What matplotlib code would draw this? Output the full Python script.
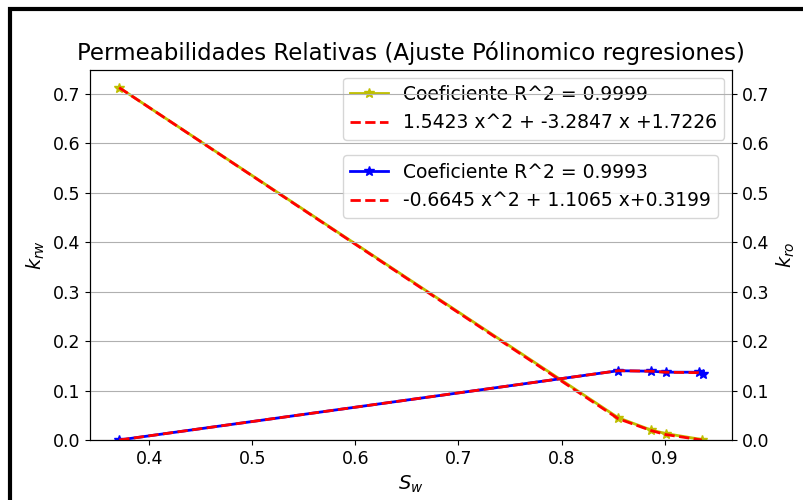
import matplotlib
matplotlib.use("Agg")
import matplotlib.pyplot as plt
from matplotlib.patches import Rectangle

# Data
sw_o = [0.371, 0.855, 0.887, 0.901, 0.936]
kro = [0.712, 0.045, 0.020, 0.013, 0.001]
kro_fit = [0.712, 0.043, 0.019, 0.011, 0.000]

sw_w = [0.371, 0.855, 0.887, 0.901, 0.933, 0.937]
krw = [0.000, 0.140, 0.139, 0.137, 0.137, 0.133]
krw_fit = [0.000, 0.140, 0.139, 0.137, 0.136, 0.134]

title = "Permeabilidades Relativas (Ajuste Pólinomico regresiones)"
lab_o1 = "Coeficiente R^2 = 0.9999"
lab_o2 = "1.5423 x^2 + -3.2847 x +1.7226"
lab_w1 = "Coeficiente R^2 = 0.9993"
lab_w2 = "-0.6645 x^2 + 1.1065 x+0.3199"

plt.rcParams['font.family'] = ['DejaVu Sans']
fig = plt.figure(figsize=(8.04, 5.0), dpi=100)
ax1 = fig.add_axes([90/804, 60/500, 642/804, 370/500])
ax2 = ax1.twinx()

ax1.plot(sw_o, kro, 'y-*', markersize=7.5, linewidth=2, label=lab_o1)
ax1.plot(sw_o, kro_fit, 'r--', linewidth=2, label=lab_o2)
ax2.plot(sw_w, krw, 'b-*', markersize=7.5, linewidth=2, label=lab_w1)
ax2.plot(sw_w, krw_fit, 'r--', linewidth=2, label=lab_w2)

ax1.set_ylim(bottom=0)
ax2.set_ylim(ax1.get_ylim())
ax2.grid(True)

ax1.set_title(title, fontsize=16.5, pad=7)
ax1.set_xlabel('$S_w$', fontsize=14)
ax1.set_ylabel('$k_{rw}$', fontsize=14)
ax2.set_ylabel('$k_{ro}$', fontsize=14)
ax1.tick_params(labelsize=12.5)
ax2.tick_params(labelsize=12.5)

ax1.legend(loc='upper right', fontsize=13.5, borderaxespad=0.4)
ax2.legend(loc='upper right', bbox_to_anchor=(0.993, 0.795), fontsize=13.5)

fig.patches.append(Rectangle((10/804, -0.1), 1.2, 0.1 + (1 - 9/500),
                             transform=fig.transFigure, fill=False,
                             edgecolor='black', linewidth=3.0, zorder=10))

fig.savefig('out.png', dpi=100)
